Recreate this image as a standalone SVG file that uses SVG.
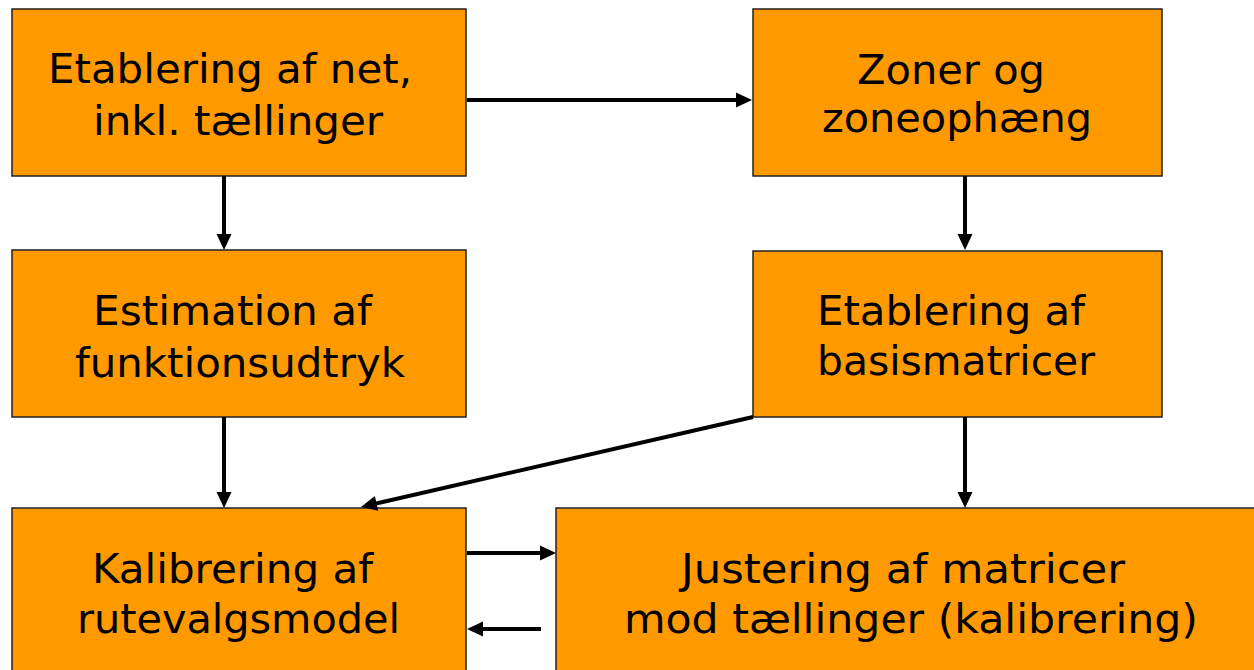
<svg xmlns="http://www.w3.org/2000/svg" width="1254" height="670" viewBox="0 0 1254 670">
  <style>
    .box { fill: #FF9900; stroke: #222; stroke-width: 1.5; }
    .lbl { font-family: "DejaVu Sans", Verdana, sans-serif; font-size: 41px; fill: #000; }
    .arr { stroke: #000; stroke-width: 4; fill: none; marker-end: url(#ah); }
  </style>
  <defs>
    <marker id="ah" markerUnits="userSpaceOnUse" markerWidth="16" markerHeight="15" refX="6" refY="7.5" orient="auto" overflow="visible">
      <path d="M0,0 L16,7.5 L0,15 Z" fill="#000"/>
    </marker>
  </defs>
  <rect width="1254" height="670" fill="#fff"/>

  <g id="n1">
    <rect class="box" x="12" y="9" width="454" height="167"/>
    <text class="lbl" x="48" y="83" textLength="364" lengthAdjust="spacingAndGlyphs">Etablering af net,</text>
    <text class="lbl" x="93" y="135" textLength="290" lengthAdjust="spacingAndGlyphs">inkl. tællinger</text>
  </g>
  <g id="n2">
    <rect class="box" x="753" y="9" width="409" height="167"/>
    <text class="lbl" x="857" y="84" textLength="188" lengthAdjust="spacingAndGlyphs">Zoner og</text>
    <text class="lbl" x="822" y="132" textLength="270" lengthAdjust="spacingAndGlyphs">zoneophæng</text>
  </g>
  <g id="n3">
    <rect class="box" x="12" y="250" width="454" height="167"/>
    <text class="lbl" x="93" y="325" textLength="279" lengthAdjust="spacingAndGlyphs">Estimation af</text>
    <text class="lbl" x="75" y="377" textLength="330" lengthAdjust="spacingAndGlyphs">funktionsudtryk</text>
  </g>
  <g id="n4">
    <rect class="box" x="753" y="251" width="409" height="166"/>
    <text class="lbl" x="817" y="325" textLength="268" lengthAdjust="spacingAndGlyphs">Etablering af</text>
    <text class="lbl" x="817" y="375" textLength="278" lengthAdjust="spacingAndGlyphs">basismatricer</text>
  </g>
  <g id="n5">
    <rect class="box" x="12" y="508" width="454" height="172"/>
    <text class="lbl" x="92" y="583" textLength="281" lengthAdjust="spacingAndGlyphs">Kalibrering af</text>
    <text class="lbl" x="77" y="633" textLength="323" lengthAdjust="spacingAndGlyphs">rutevalgsmodel</text>
  </g>
  <g id="n6">
    <rect class="box" x="556" y="508" width="710" height="172"/>
    <text class="lbl" x="681" y="583" textLength="444" lengthAdjust="spacingAndGlyphs">Justering af matricer</text>
    <text class="lbl" x="624" y="633" textLength="574" lengthAdjust="spacingAndGlyphs">mod tællinger (kalibrering)</text>
  </g>

  <g id="connectors">
    <line class="arr" x1="467" y1="100" x2="742" y2="100"/>
    <line class="arr" x1="224" y1="176" x2="224" y2="240"/>
    <line class="arr" x1="965" y1="176" x2="965" y2="240"/>
    <line class="arr" x1="224" y1="417" x2="224" y2="498"/>
    <line class="arr" x1="965" y1="417" x2="965" y2="498"/>
    <line class="arr" x1="753" y1="417" x2="370.7" y2="504.7"/>
    <line class="arr" x1="467" y1="553" x2="546" y2="553"/>
    <line class="arr" x1="541" y1="629" x2="477" y2="629"/>
  </g>
</svg>
